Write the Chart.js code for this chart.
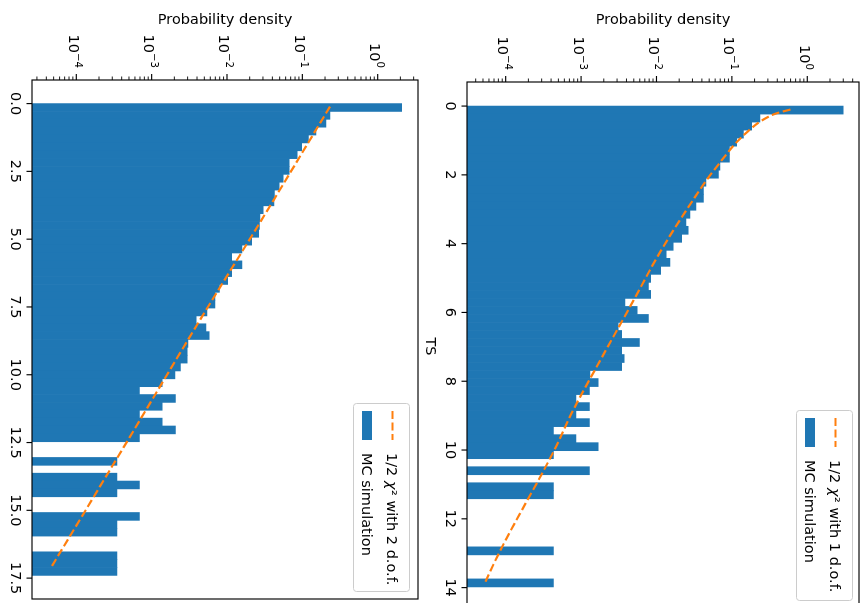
<!DOCTYPE html>
<html>
<head>
<meta charset="utf-8">
<script src="https://cdn.jsdelivr.net/npm/chart.js@4/dist/chart.umd.min.js"></script>
<style>
    html, body { margin: 0; padding: 0; width: 867px; height: 603px; overflow: hidden; background: #fff; }
    /* the figure is drawn upright, then turned a quarter clockwise like the reference */
    #fig { position: absolute; left: 0; top: 0; width: 620px; height: 900px; transform-origin: 0 0; transform: translateX(867px) rotate(90deg); }
    #fig canvas { position: absolute; left: 0; }
    #c1 { top: 0; }
    #c2 { top: 440px; }
</style>
</head>
<body>
<div id="fig">
    <canvas id="c1" width="620" height="460"></canvas>
    <canvas id="c2" width="620" height="460"></canvas>
</div>
<script>
// 1 d.o.f. panel: histogram of 60 bins starting at TS = 0
var binWidth1 = 0.233;
var density1 = [
    3.0, 0.236, 0.183, 0.142, 0.116, 0.0925, 0.0925, 0.0695, 0.0661, 0.0453,
    0.0418, 0.0418, 0.0334, 0.0278, 0.0246, 0.0264, 0.0216, 0.0167, 0.0134, 0.0151,
    0.0114, 0.00838, 0.0078, 0.00838, 0.00382, 0.00556, 0.0078, 0.00311, 0.00345, 0.00592,
    0.00345, 0.00374, 0.00345, 0.00131, 0.00169, 0.00129, 0.000855, 0.00129, 0.000855, 0.00129,
    0.000429, 0.000855, 0.00169, 0.000429, null, 0.00129, null, 0.000429, 0.000429, null,
    null, null, null, null, null, 0.000429, null, null, null, 0.000429
];
var curveTs1 = [0.1, 0.22, 0.42, 0.74, 1.08, 1.55, 2.13, 2.71, 4.17, 5.82, 7.76, 8.83, 10.05, 12.96, 13.9];
var curve1 = [0.60, 0.38, 0.249, 0.162, 0.112, 0.075, 0.047, 0.031, 0.0117, 0.0045, 0.00145, 0.00079, 0.00043, 0.000083, 0.000052];

// 2 d.o.f. panel
var binWidth2 = 0.29;
var density2 = [
    2.08, 0.233, 0.206, 0.152, 0.120, 0.098, 0.0857, 0.0671, 0.0671, 0.0558,
    0.0494, 0.0427, 0.0421, 0.0303, 0.0274, 0.0269, 0.0263, 0.0213, 0.0158, 0.0115,
    0.0158, 0.0115, 0.0102, 0.00794, 0.00693, 0.00693, 0.00543, 0.00389, 0.00525, 0.00582,
    0.00302, 0.00295, 0.00295, 0.0024, 0.00204, 0.00138, 0.00069, 0.00207, 0.00138, 0.00069,
    0.00138, 0.00207, 0.00069, null, null, 0.000345, null, 0.000345, 0.00069, 0.000345,
    null, null, 0.00069, 0.000345, 0.000345, null, null, 0.000345, 0.000345, 0.000345
];
var curveTs2 = [0.11, 4.38, 7.84, 12.47, 17.13];
var curve2 = [0.233, 0.0275, 0.0047, 0.00047, 0.0000457];

// axis ranges (TS) and log10 ranges of the density axis
var tsRange1 = [-0.7, 14.68];
var tsRange2 = [-0.87, 18.27];
var logRange1 = [-4.513, 0.686];
var logRange2 = [-4.588, 0.535];
var tsStep1 = 2;
var tsStep2 = 2.5;
var decades = [-4, -3, -2, -1, 0];

var blue = '#1f77b4';
var orange = '#ff7f0e';

Chart.defaults.font.family = "'DejaVu Sans', sans-serif";
Chart.defaults.font.size = 14.5;
Chart.defaults.color = '#000';

function binPoints(width, dens) {
    return dens.map(function (d, i) { return { x: (i + 0.5) * width, y: d }; });
}

function curvePoints(ts, vals) {
    return ts.map(function (t, i) { return { x: t, y: vals[i] }; });
}

// spines, tick marks and the 10^n labels, matplotlib style
var framePlugin = {
    id: 'frame',
    afterDatasetsDraw: function (chart) {
        var ctx = chart.ctx, a = chart.chartArea;
        var xs = chart.scales.x, ys = chart.scales.y;
        function seg(x1, y1, x2, y2) {
            ctx.beginPath(); ctx.moveTo(x1, y1); ctx.lineTo(x2, y2); ctx.stroke();
        }
        ctx.save();
        ctx.strokeStyle = '#000';
        ctx.lineWidth = 1.15;
        ctx.strokeRect(a.left, a.top, a.right - a.left, a.bottom - a.top);
        xs.ticks.forEach(function (t) {
            var px = xs.getPixelForValue(t.value);
            seg(px, a.bottom, px, a.bottom + 5.5);
        });
        for (var e = -6; e <= 1; e++) {
            for (var k = 1; k <= 9; k++) {
                var v = k * Math.pow(10, e);
                if (v < ys.min || v > ys.max) continue;
                var py = ys.getPixelForValue(v);
                ctx.lineWidth = k === 1 ? 1.15 : 0.9;
                seg(a.left - (k === 1 ? 6 : 3.5), py, a.left, py);
            }
        }

        ctx.fillStyle = '#000';
        ctx.textBaseline = 'alphabetic';
        ctx.textAlign = 'left';
        decades.forEach(function (d) {
            var py = ys.getPixelForValue(Math.pow(10, d));
            var exp = d < 0 ? '\u2212' + (-d) : String(d);
            ctx.font = "14.5px 'DejaVu Sans'";
            var w1 = ctx.measureText('10').width;
            ctx.font = "10.2px 'DejaVu Sans'";
            var w2 = ctx.measureText(exp).width;
            var x0 = a.left - 12 - w1 - w2;
            ctx.font = "14.5px 'DejaVu Sans'";
            ctx.fillText('10', x0, py + 7.5);
            ctx.font = "10.2px 'DejaVu Sans'";
            ctx.fillText(exp, x0 + w1, py + 1);
        });
        ctx.restore();
    }
};

var legendPlugin = {
    id: 'boxLegend',
    afterDraw: function (chart, args, opts) {
        var ctx = chart.ctx, a = chart.chartArea;
        var w = opts.width, h = 56;
        var x = a.right - opts.right - w, y = a.top + opts.top;
        ctx.save();
        ctx.beginPath();
        ctx.roundRect(x + 0.5, y + 0.5, w, h, 3);
        ctx.fillStyle = 'rgba(255,255,255,0.8)';
        ctx.fill();
        ctx.strokeStyle = '#cccccc';
        ctx.lineWidth = 1;
        ctx.stroke();

        ctx.strokeStyle = orange;
        ctx.lineWidth = 2.2;
        ctx.setLineDash([8, 3.5]);
        ctx.beginPath();
        ctx.moveTo(x + 8, y + 17.5);
        ctx.lineTo(x + 37, y + 17.5);
        ctx.stroke();
        ctx.setLineDash([]);
        ctx.fillStyle = blue;
        ctx.fillRect(x + 8, y + 38, 29, 10);

        ctx.fillStyle = '#000';
        ctx.textBaseline = 'alphabetic';
        ctx.textAlign = 'left';
        var tx = x + 50;
        ctx.font = "14.5px 'DejaVu Sans'";
        ctx.fillText('1/2 ', tx, y + 22.5);
        tx += ctx.measureText('1/2 ').width;
        ctx.font = "italic 14.5px 'DejaVu Sans'";
        ctx.fillText('\u03c7', tx, y + 22.5);
        tx += ctx.measureText('\u03c7').width + 0.5;
        ctx.font = "14.5px 'DejaVu Sans'";
        ctx.fillText('\u00b2' + opts.tail, tx, y + 22.5);
        ctx.fillText('MC simulation', x + 50, y + 48);
        ctx.restore();
    }
};

function makeChart(id, cfg) {
    return new Chart(document.getElementById(id), {
        type: 'bar',
        data: {
            datasets: [{
                type: 'line',
                label: cfg.lineLabel,
                data: curvePoints(cfg.curveTs, cfg.curve),
                borderColor: orange,
                borderWidth: 2.2,
                borderDash: [8, 3.5],
                pointRadius: 0,
                fill: false,
                cubicInterpolationMode: 'monotone',
                order: 0
            }, {
                type: 'bar',
                label: 'MC simulation',
                data: binPoints(cfg.binWidth, cfg.density),
                backgroundColor: blue,
                borderWidth: 0,
                barPercentage: 1,
                categoryPercentage: 1,
                order: 1
            }]
        },
        options: {
            responsive: false,
            animation: false,
            events: [],
            layout: { padding: cfg.padding },
            plugins: {
                legend: { display: false },
                tooltip: { enabled: false },
                boxLegend: cfg.legend
            },
            scales: {
                x: {
                    type: 'linear',
                    min: cfg.tsRange[0],
                    max: cfg.tsRange[1],
                    offset: false,
                    grid: { display: false, drawTicks: false },
                    border: { display: false },
                    ticks: {
                        stepSize: cfg.tsStep,
                        includeBounds: false,
                        autoSkip: false,
                        maxRotation: 0,
                        padding: 9,
                        callback: cfg.tsFormat
                    },
                    title: { display: true, text: 'TS', padding: { top: 0, bottom: cfg.tsTitlePad } },
                    afterFit: function (s) { s.height = cfg.xHeight; }
                },
                y: {
                    type: 'logarithmic',
                    min: Math.pow(10, cfg.logRange[0]),
                    max: Math.pow(10, cfg.logRange[1]),
                    grid: { display: false, drawTicks: false },
                    border: { display: false },
                    ticks: { display: false },
                    title: { display: true, text: 'Probability density', padding: { top: 11.5, bottom: 0 } },
                    afterFit: function (s) { s.width = cfg.yWidth; }
                }
            }
        },
        plugins: [framePlugin, legendPlugin]
    });
}

makeChart('c1', {
    lineLabel: '1/2 \u03c7\u00b2 with 1 d.o.f.',
    binWidth: binWidth1, density: density1,
    curveTs: curveTs1, curve: curve1,
    tsRange: tsRange1, tsStep: tsStep1, logRange: logRange1,
    tsFormat: function (v) { return String(v); },
    padding: { left: 0, top: 8, right: 9, bottom: 0 },
    yWidth: 82, xHeight: 60, tsTitlePad: 14.5,
    legend: { width: 190, right: 11, top: 6, tail: ' with 1 d.o.f.' }
});

makeChart('c2', {
    lineLabel: '1/2 \u03c7\u00b2 with 2 d.o.f.',
    binWidth: binWidth2, density: density2,
    curveTs: curveTs2, curve: curve2,
    tsRange: tsRange2, tsStep: tsStep2, logRange: logRange2,
    tsFormat: function (v) { return v.toFixed(1); },
    padding: { left: 0, top: 9, right: 21, bottom: 0 },
    yWidth: 80, xHeight: 65, tsTitlePad: 18.5,
    legend: { width: 188, right: 8, top: 8, tail: ' with 2 d.o.f.' }
});
</script>
</body>
</html>
